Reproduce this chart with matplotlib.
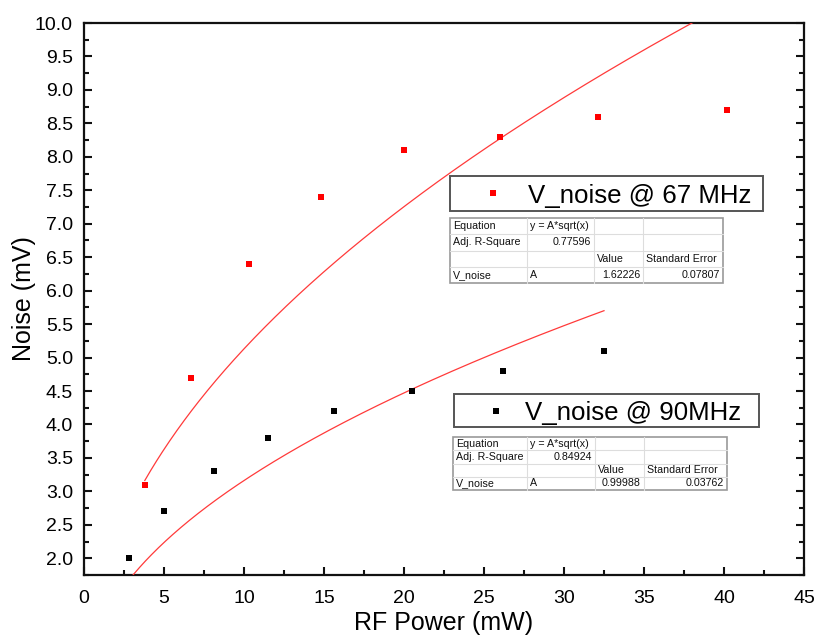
import numpy as np
import matplotlib
matplotlib.use("Agg")
import matplotlib.pyplot as plt
from matplotlib.patches import Rectangle
from matplotlib.lines import Line2D
from matplotlib.ticker import MultipleLocator, FormatStrFormatter

plt.rcParams['font.family'] = ['Liberation Sans', 'DejaVu Sans']

# Measured noise vs RF power
power_67 = [3.8, 6.7, 10.3, 14.8, 20.0, 26.0, 32.1, 40.2]
noise_67 = [3.1, 4.7, 6.4, 7.4, 8.1, 8.3, 8.6, 8.7]
power_90 = [2.8, 5.0, 8.1, 11.5, 15.6, 20.5, 26.2, 32.5]
noise_90 = [2.0, 2.7, 3.3, 3.8, 4.2, 4.5, 4.8, 5.1]

# Fit results for y = A*sqrt(x)
fit_A = [1.62226, 0.99988]
fit_err = [0.07807, 0.03762]
fit_r2 = [0.77596, 0.84924]
series_names = ["V_noise @ 67 MHz", "V_noise @ 90MHz"]

W, H = 814, 635
fig = plt.figure(figsize=(W / 100, H / 100), dpi=100)
ax = fig.add_axes([84 / W, 1 - 575 / H, (804 - 84) / W, (575 - 23) / H])


def fx(x):
    return x / W


def fy(y):
    return 1 - y / H


# data points
ax.plot(power_67, noise_67, 's', color='#ff0000', markersize=5, mew=0, zorder=4)
ax.plot(power_90, noise_90, 's', color='#000000', markersize=5, mew=0, zorder=4)

# fitted curves
for xs, A in ((power_67, fit_A[0]), (power_90, fit_A[1])):
    xx = np.linspace(min(xs), max(xs), 400)
    ax.plot(xx, A * np.sqrt(xx), '-', color='#ff3a3a', lw=0.9, zorder=3)

ax.set_xlim(0, 45)
ax.set_ylim(1.75, 10.0)
ax.xaxis.set_major_locator(MultipleLocator(5))
ax.xaxis.set_minor_locator(MultipleLocator(2.5))
ax.yaxis.set_major_locator(MultipleLocator(0.5))
ax.yaxis.set_minor_locator(MultipleLocator(0.25))
ax.yaxis.set_major_formatter(FormatStrFormatter('%.1f'))
ax.tick_params(which='both', direction='in', right=True, top=False, width=1.5,
               labelsize=14, color='#111111')
ax.tick_params(which='major', length=6)
ax.tick_params(which='minor', length=3.5)
ax.tick_params(axis='x', which='major', pad=11)
ax.tick_params(axis='y', which='major', pad=8)
for s in ax.spines.values():
    s.set_linewidth(1.6)
    s.set_color('#111111')

ax.set_xlabel("RF Power (mW)", fontsize=18, labelpad=3)
ax.set_ylabel("Noise (mV)", fontsize=18, labelpad=-1)


def legend_box(x0, y0, x1, y1, mx, tx, color, label):
    fig.add_artist(Rectangle((fx(x0), fy(y1)), fx(x1) - fx(x0), fy(y0) - fy(y1),
                             transform=fig.transFigure, facecolor='white',
                             edgecolor='#555555', lw=1.4, zorder=5))
    yc = (y0 + y1) / 2
    fig.add_artist(Line2D([fx(mx)], [fy(yc)], marker='s', color=color,
                          markersize=5, mew=0, transform=fig.transFigure, zorder=6))
    fig.text(fx(tx), fy(yc), label, fontsize=18.6, ha='left', va='center_baseline',
             zorder=6)


def fit_table(x0, y0, x1, y1, cols, r2, A, err):
    nrows = 4
    rh = (y1 - y0) / nrows
    fig.add_artist(Rectangle((fx(x0), fy(y1)), fx(x1) - fx(x0), fy(y0) - fy(y1),
                             transform=fig.transFigure, facecolor='white',
                             edgecolor='#999999', lw=1.2, zorder=5))
    for i in range(1, nrows):
        yy = y0 + i * rh
        fig.add_artist(Line2D([fx(x0), fx(x1)], [fy(yy), fy(yy)], color='#dddddd',
                              lw=0.8, transform=fig.transFigure, zorder=5))
    for c in cols:
        fig.add_artist(Line2D([fx(c), fx(c)], [fy(y0), fy(y1)], color='#dddddd',
                              lw=0.8, transform=fig.transFigure, zorder=5))
    edges = [x0] + list(cols) + [x1]
    cells = [
        [("Equation", 'l'), ("y = A*sqrt(x)", 'l'), None, None],
        [("Adj. R-Square", 'l'), (f"{r2:.5f}", 'r'), None, None],
        [None, None, ("Value", 'l'), ("Standard Error", 'l')],
        [("V_noise", 'l'), ("A", 'l'), (f"{A:.5f}", 'r'), (f"{err:.5f}", 'r')],
    ]
    for r, row in enumerate(cells):
        yc = y0 + (r + 0.5) * rh
        for c, cell in enumerate(row):
            if cell is None:
                continue
            txt, al = cell
            if al == 'l':
                xt, ha = edges[c] + 3, 'left'
            else:
                xt, ha = edges[c + 1] - 3, 'right'
            fig.text(fx(xt), fy(yc), txt, fontsize=7.7, ha=ha, va='center',
                     color='#111111', zorder=6)


legend_box(450, 176, 763, 211, 493, 528, '#ff0000', series_names[0])
fit_table(450, 218, 723, 283, [527, 594, 643], fit_r2[0], fit_A[0], fit_err[0])

legend_box(454, 394, 759, 427, 496, 525, '#000000', series_names[1])
fit_table(453, 437, 727, 490, [527, 595, 644], fit_r2[1], fit_A[1], fit_err[1])

fig.savefig("out.png", dpi=100)
